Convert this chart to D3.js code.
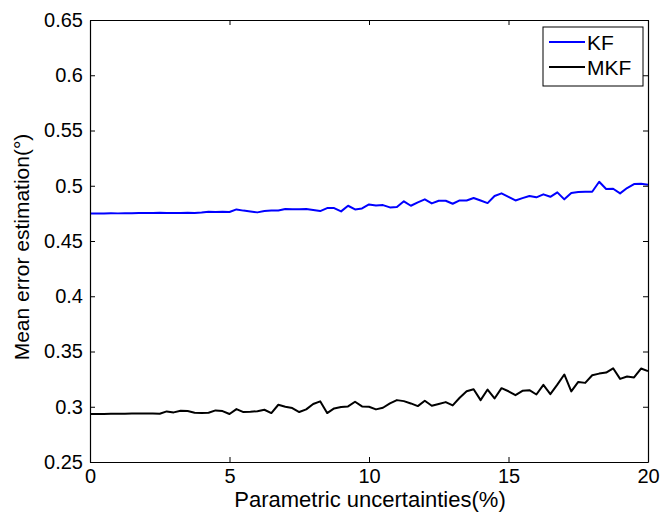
<!DOCTYPE html>
<html>
<head>
<meta charset="utf-8">
<script src="https://cdn.jsdelivr.net/npm/d3@7"></script>
<style>
  html, body { margin: 0; padding: 0; background: #fff; }
  svg { display: block; }
  text { font-family: "Liberation Sans", Arial, sans-serif; fill: #000; }
</style>
</head>
<body>
<svg id="chart" width="664" height="514"></svg>
<script>
// ---- data ----
const xValues = d3.range(0, 81).map(i => i * 0.25);
const kfValues = [
  0.4750, 0.4750, 0.4749, 0.4751, 0.4750, 0.4752, 0.4751, 0.4753, 0.4754, 0.4754,
  0.4755, 0.4754, 0.4753, 0.4753, 0.4755, 0.4754, 0.4757, 0.4765, 0.4763, 0.4764,
  0.4762, 0.4786, 0.4775, 0.4768, 0.4759, 0.4772, 0.4775, 0.4776, 0.4789, 0.4787,
  0.4788, 0.4790, 0.4780, 0.4771, 0.4798, 0.4798, 0.4768, 0.4819, 0.4786, 0.4795,
  0.4831, 0.4822, 0.4825, 0.4804, 0.4807, 0.4859, 0.4819, 0.4850, 0.4877, 0.4840,
  0.4864, 0.4864, 0.4837, 0.4867, 0.4867, 0.4889, 0.4866, 0.4843, 0.4907, 0.4931,
  0.4900, 0.4867, 0.4888, 0.4907, 0.4895, 0.4922, 0.4900, 0.4940, 0.4877, 0.4934,
  0.4943, 0.4945, 0.4946, 0.5036, 0.4970, 0.4973, 0.4931, 0.4979, 0.5015, 0.5018,
  0.5009
];
const mkfValues = [
  0.2934, 0.2934, 0.2935, 0.2936, 0.2937, 0.2937, 0.2938, 0.2940, 0.2939, 0.2938,
  0.2937, 0.2958, 0.2949, 0.2964, 0.2961, 0.2946, 0.2943, 0.2946, 0.2967, 0.2961,
  0.2934, 0.2979, 0.2952, 0.2955, 0.2960, 0.2973, 0.2943, 0.3018, 0.3000, 0.2988,
  0.2952, 0.2976, 0.3025, 0.3049, 0.2943, 0.2985, 0.2998, 0.3003, 0.3045, 0.3003,
  0.3000, 0.2976, 0.2991, 0.3030, 0.3060, 0.3051, 0.3030, 0.3006, 0.3054, 0.3009,
  0.3025, 0.3042, 0.3012, 0.3081, 0.3141, 0.3159, 0.3060, 0.3156, 0.3075, 0.3168,
  0.3140, 0.3105, 0.3144, 0.3150, 0.3111, 0.3198, 0.3114, 0.3200, 0.3292, 0.3139,
  0.3225, 0.3216, 0.3285, 0.3300, 0.3309, 0.3348, 0.3252, 0.3274, 0.3265, 0.3346,
  0.3322
];
const xTicks = [0, 5, 10, 15, 20];
const yTicks = [0.25, 0.3, 0.35, 0.4, 0.45, 0.5, 0.55, 0.6, 0.65];
const seriesNames = ["KF", "MKF"];
const seriesColors = ["#0000ff", "#000000"];

// ---- layout ----
const svg = d3.select("#chart");
const mLeft = 90, mRight = 648, mTop = 20, mBottom = 462;
const x = d3.scaleLinear().domain([0, 20]).range([mLeft, mRight]);
const y = d3.scaleLinear().domain([0.25, 0.65]).range([mBottom, mTop]);
const tickLen = 5;

// data lines
const series = [kfValues, mkfValues];
const line = d3.line().x((d, i) => x(xValues[i])).y(d => y(d));
series.forEach((vals, k) => {
  svg.append("path")
    .datum(vals)
    .attr("d", line)
    .attr("fill", "none")
    .attr("stroke", seriesColors[k])
    .attr("stroke-width", 2)
    .attr("stroke-linejoin", "round");
});

// axes (MATLAB box style, inward ticks)
const fmtY = d => d3.format(".2~f")(d);
const axB = svg.append("g").attr("transform", `translate(0,${mBottom})`)
  .call(d3.axisBottom(x).tickValues(xTicks).tickSizeInner(-tickLen).tickSizeOuter(0).tickPadding(7).tickFormat(d3.format("d")));
const axT = svg.append("g").attr("transform", `translate(0,${mTop})`)
  .call(d3.axisTop(x).tickValues(xTicks).tickSizeInner(-tickLen).tickSizeOuter(0).tickFormat(""));
const axL = svg.append("g").attr("transform", `translate(${mLeft},0)`)
  .call(d3.axisLeft(y).tickValues(yTicks).tickSizeInner(-tickLen).tickSizeOuter(0).tickPadding(7).tickFormat(fmtY));
const axR = svg.append("g").attr("transform", `translate(${mRight},0)`)
  .call(d3.axisRight(y).tickValues(yTicks).tickSizeInner(-tickLen).tickSizeOuter(0).tickFormat(""));

[axB, axT, axL, axR].forEach(g => {
  g.select(".domain").attr("stroke", "#000").attr("stroke-width", 1.2);
  g.selectAll(".tick line").attr("stroke", "#000").attr("stroke-width", 1);
  g.selectAll(".tick text").attr("font-size", 20).attr("font-family", "Liberation Sans, Arial, sans-serif").attr("fill", "#000");
});
axB.selectAll(".tick text").attr("dy", "0.71em");

// axis labels
svg.append("text")
  .attr("x", 370).attr("y", 507)
  .attr("text-anchor", "middle").attr("font-size", 22)
  .text("Parametric uncertainties(%)");
svg.append("text")
  .attr("transform", `translate(29,${(mTop + mBottom) / 2 + 6}) rotate(-90)`)
  .attr("text-anchor", "middle").attr("font-size", 21)
  .text("Mean error estimation(°)");

// legend
const lg = svg.append("g");
lg.append("rect")
  .attr("x", 543).attr("y", 27).attr("width", 100).attr("height", 59)
  .attr("fill", "#fff").attr("stroke", "#000").attr("stroke-width", 1);
seriesNames.forEach((name, k) => {
  const cy = 42 + k * 25;
  lg.append("line").attr("x1", 549).attr("x2", 585).attr("y1", cy).attr("y2", cy)
    .attr("stroke", seriesColors[k]).attr("stroke-width", 2);
  lg.append("text").attr("x", 587).attr("y", cy).attr("dy", "0.36em")
    .attr("font-size", 21).text(name);
});
</script>
</body>
</html>
